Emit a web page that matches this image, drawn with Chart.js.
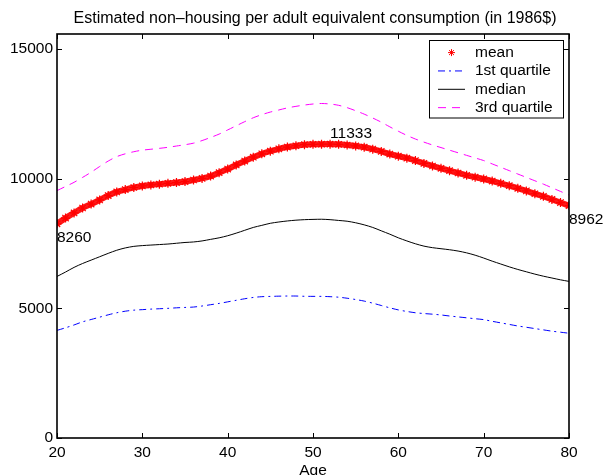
<!DOCTYPE html>
<html>
<head>
<meta charset="utf-8">
<script src="https://cdn.jsdelivr.net/npm/chart.js@4.4.1/dist/chart.umd.min.js"></script>
<style>
  html, body { margin: 0; padding: 0; background: #fff; }
  canvas { display: block; }
</style>
</head>
<body>
<canvas id="consumptionChart" width="604" height="475"></canvas>
<script>
// age 20..80, one value per year (1986 dollars)
const ages = [20, 21, 22, 23, 24, 25, 26, 27, 28, 29, 30, 31, 32, 33, 34, 35, 36, 37, 38, 39,
  40, 41, 42, 43, 44, 45, 46, 47, 48, 49, 50, 51, 52, 53, 54, 55, 56, 57, 58, 59,
  60, 61, 62, 63, 64, 65, 66, 67, 68, 69, 70, 71, 72, 73, 74, 75, 76, 77, 78, 79, 80];

const meanValues = [8260, 8480, 8680, 8870, 9020, 9180, 9350, 9490, 9580, 9660,
  9720, 9760, 9790, 9820, 9850, 9890, 9950, 10010, 10100, 10230,
  10370, 10530, 10680, 10830, 10960, 11060, 11150, 11220, 11270, 11310,
  11325, 11331, 11333, 11325, 11300, 11265, 11215, 11140, 11050, 10950,
  10870, 10790, 10700, 10590, 10490, 10400, 10310, 10220, 10130, 10060,
  9990, 9910, 9820, 9730, 9630, 9530, 9420, 9320, 9200, 9080, 8962];

const q1Values = [4150, 4250, 4360, 4480, 4570, 4660, 4750, 4830, 4890, 4930,
  4950, 4970, 4985, 5000, 5020, 5035, 5050, 5090, 5140, 5190,
  5250, 5310, 5370, 5420, 5450, 5460, 5470, 5475, 5475, 5465,
  5462, 5462, 5450, 5430, 5390, 5340, 5280, 5200, 5110, 5020,
  4940, 4880, 4830, 4800, 4775, 4745, 4705, 4670, 4635, 4600,
  4565, 4500, 4440, 4380, 4320, 4270, 4220, 4170, 4120, 4080, 4040];

const medianValues = [6230, 6400, 6580, 6730, 6860, 6990, 7120, 7240, 7330, 7390,
  7420, 7440, 7460, 7480, 7510, 7540, 7560, 7600, 7660, 7720,
  7800, 7900, 8010, 8120, 8200, 8280, 8330, 8370, 8400, 8420,
  8430, 8436, 8420, 8390, 8360, 8300, 8220, 8120, 7990, 7860,
  7720, 7600, 7490, 7400, 7340, 7300, 7260, 7210, 7140, 7050,
  6940, 6820, 6710, 6600, 6500, 6410, 6320, 6240, 6170, 6100, 6040];

const q3Values = [9540, 9700, 9860, 10050, 10250, 10470, 10680, 10850, 10960, 11040,
  11100, 11135, 11170, 11210, 11260, 11310, 11370, 11470, 11590, 11720,
  11880, 12040, 12200, 12350, 12470, 12570, 12650, 12730, 12790, 12840,
  12880, 12900, 12880, 12830, 12740, 12620, 12490, 12340, 12180, 12000,
  11830, 11670, 11530, 11410, 11300, 11200, 11100, 11000, 10900, 10800,
  10700, 10570, 10440, 10310, 10180, 10050, 9920, 9790, 9650, 9510, 9370];

const xTicks = [20, 30, 40, 50, 60, 70, 80];
const yTicks = [0, 5000, 10000, 15000];

// annotated points on the mean curve: [age, value, dx, dy]
const meanNotes = [[20, 8260, 0, 18], [52, 11333, 0, -6], [80, 8962, 0, 18.5]];

const FONT = "'Liberation Sans', Arial, Helvetica, sans-serif";

const toPoints = vals => vals.map((v, i) => ({ x: ages[i], y: v }));

const legendItems = [
  { label: 'mean', kind: 'star', color: '#ff0000' },
  { label: '1st quartile', kind: 'line', color: '#0000ff', dash: [7, 4, 2, 4] },
  { label: 'median', kind: 'line', color: '#000000', dash: [] },
  { label: '3rd quartile', kind: 'line', color: '#ff00ff', dash: [8, 6] }
];

function drawStar(ctx, x, y, r) {
  ctx.beginPath();
  for (let k = 0; k < 4; k++) {
    const a = k * Math.PI / 4;
    ctx.moveTo(x - r * Math.cos(a), y - r * Math.sin(a));
    ctx.lineTo(x + r * Math.cos(a), y + r * Math.sin(a));
  }
  ctx.stroke();
}

const frame = {
  id: 'frame',
  beforeDraw(chart) {
    const ctx = chart.ctx;
    ctx.save();
    ctx.fillStyle = '#fff';
    ctx.fillRect(0, 0, chart.width, chart.height);
    ctx.restore();
  },
  afterDraw(chart) {
    const { ctx, chartArea: a, scales } = chart;
    const xs = scales.x, ys = scales.y;
    ctx.save();

    // axes box with inward ticks on all four sides
    ctx.strokeStyle = '#000';
    ctx.lineWidth = 1.6;
    ctx.strokeRect(a.left, a.top, a.right - a.left, a.bottom - a.top);
    ctx.lineWidth = 1;
    ctx.beginPath();
    xTicks.forEach(t => {
      const px = Math.round(xs.getPixelForValue(t)) + 0.5;
      ctx.moveTo(px, a.bottom); ctx.lineTo(px, a.bottom - 5);
      ctx.moveTo(px, a.top); ctx.lineTo(px, a.top + 5);
    });
    yTicks.forEach(t => {
      const py = Math.round(ys.getPixelForValue(t)) + 0.5;
      ctx.moveTo(a.left, py); ctx.lineTo(a.left + 5, py);
      ctx.moveTo(a.right, py); ctx.lineTo(a.right - 5, py);
    });
    ctx.stroke();

    // title and axis label
    ctx.fillStyle = '#000';
    ctx.textBaseline = 'alphabetic';
    ctx.textAlign = 'center';
    ctx.font = '16px ' + FONT;
    ctx.fillText('Estimated non\u2013housing per adult equivalent consumption (in 1986$)', 315, 23);
    ctx.font = '15.5px ' + FONT;
    ctx.fillText('Age', (a.left + a.right) / 2, 474.5);

    // values written next to the mean curve
    ctx.textAlign = 'left';
    meanNotes.forEach(([age, v, dx, dy]) => {
      ctx.fillText(String(v), xs.getPixelForValue(age) + dx, ys.getPixelForValue(v) + dy);
    });

    // legend box
    const lx = 429.5, ly = 40.5, lw = 134, lh = 77.5;
    ctx.fillStyle = '#fff';
    ctx.fillRect(lx, ly, lw, lh);
    ctx.strokeStyle = '#000';
    ctx.lineWidth = 1;
    ctx.strokeRect(lx, ly, lw, lh);
    legendItems.forEach((item, i) => {
      const base = 57 + i * 18.35;
      const sy = base - 4.4;
      ctx.strokeStyle = item.color;
      if (item.kind === 'star') {
        drawStar(ctx, 451.5, sy, 3.5);
      } else {
        ctx.setLineDash(item.dash);
        ctx.beginPath();
        ctx.moveTo(438, sy);
        ctx.lineTo(465, sy);
        ctx.stroke();
        ctx.setLineDash([]);
      }
      ctx.fillStyle = '#000';
      ctx.font = '15.5px ' + FONT;
      ctx.fillText(item.label, 475, base);
    });
    ctx.restore();
  }
};

new Chart(document.getElementById('consumptionChart'), {
  type: 'line',
  data: {
    datasets: [
      {
        label: 'mean',
        data: toPoints(meanValues),
        borderColor: 'rgba(255, 0, 0, 0.9)',
        borderWidth: 6,
        pointStyle: 'star',
        pointRadius: 4.5,
        pointBorderColor: '#ff0000',
        pointBorderWidth: 1.2,
        pointBackgroundColor: '#ff0000',
        tension: 0.3
      },
      {
        label: '1st quartile',
        data: toPoints(q1Values),
        borderColor: '#0000ff',
        borderWidth: 1,
        borderDash: [7, 4, 2, 4],
        pointRadius: 0,
        tension: 0.3
      },
      {
        label: 'median',
        data: toPoints(medianValues),
        borderColor: '#000000',
        borderWidth: 1,
        pointRadius: 0,
        tension: 0.3
      },
      {
        label: '3rd quartile',
        data: toPoints(q3Values),
        borderColor: '#ff00ff',
        borderWidth: 1,
        borderDash: [8, 6],
        pointRadius: 0,
        tension: 0.3
      }
    ]
  },
  options: {
    responsive: false,
    animation: false,
    events: [],
    layout: { padding: { left: 0, right: 35, top: 34, bottom: 0 } },
    plugins: { legend: { display: false }, title: { display: false }, tooltip: { enabled: false } },
    scales: {
      x: {
        type: 'linear',
        min: 20,
        max: 80,
        grid: { display: false, drawTicks: false },
        border: { display: false },
        afterBuildTicks: s => { s.ticks = xTicks.map(v => ({ value: v })); },
        afterFit: s => { s.height = 37; },
        ticks: {
          padding: 5,
          maxRotation: 0,
          color: '#000',
          font: { family: FONT, size: 15.5 },
          callback: v => String(v)
        }
      },
      y: {
        min: 0,
        max: 15580,
        grid: { display: false, drawTicks: false },
        border: { display: false },
        afterBuildTicks: s => { s.ticks = yTicks.map(v => ({ value: v })); },
        afterFit: s => { s.width = 57; },
        ticks: {
          padding: 4,
          color: '#000',
          font: { family: FONT, size: 15.5 },
          callback: v => String(v)
        }
      }
    }
  },
  plugins: [frame]
});
</script>
</body>
</html>
